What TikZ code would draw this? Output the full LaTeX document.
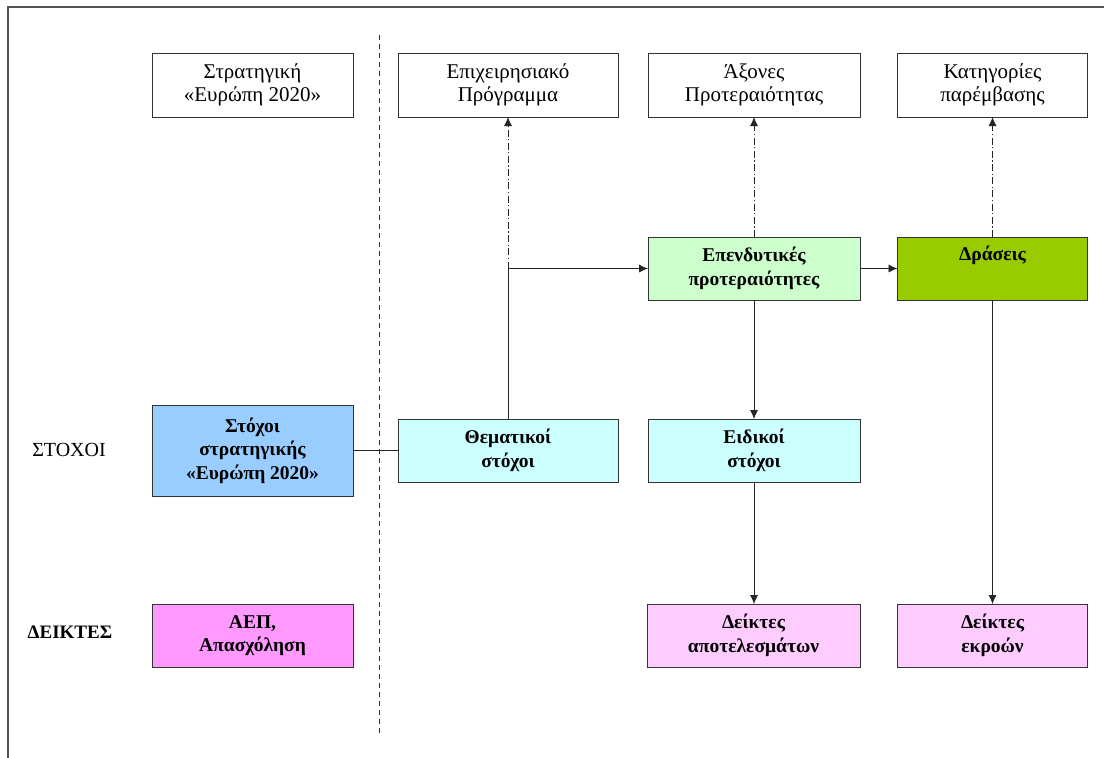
\documentclass[tikz,border=0pt]{standalone}
\usepackage{fontspec}
\setmainfont{Liberation Serif}
\newfontfamily\grserif{Liberation Serif}
\usetikzlibrary{arrows.meta}
\definecolor{cblue}{HTML}{99CCFF}
\definecolor{ccyan}{HTML}{CCFFFF}
\definecolor{cltgreen}{HTML}{CCFFCC}
\definecolor{cgreen}{HTML}{99CC00}
\definecolor{cpink}{HTML}{FF99FF}
\definecolor{cltpink}{HTML}{FFCCFF}
\definecolor{cframe}{HTML}{555555}
\begin{document}
\begin{tikzpicture}[x=1pt,y=-1pt,
  box/.style={draw=black!80, line width=0.9pt, inner sep=0pt, outer sep=0pt, align=center,
    font=\grserif\fontsize{21}{23}\selectfont},
  boldbox/.style={box, font=\grserif\fontsize{19.5}{23.5}\selectfont\bfseries},
  rowlabel/.style={inner sep=0pt, font=\grserif\fontsize{20}{22}\selectfont},
  conn/.style={line width=0.8pt, draw=black!85},
  arr/.style={conn, -{Latex[length=9pt,width=8pt]}},
  dd/.style={arr, dash pattern=on 7pt off 2.5pt on 1.2pt off 2.5pt}
]
\useasboundingbox (0,0) rectangle (1104,758);
\fill[white] (0,0) rectangle (1104,758);
% outer frame (only top and left visible)
\draw[cframe, line width=1.3pt] (8,790) -- (8,7) -- (1130,7);
% vertical dashed separator
\coordinate (sepTop) at (379,35);
\coordinate (sepBot) at (379,735);
\draw[black!80, line width=0.7pt, dash pattern=on 5pt off 4pt] (sepTop) -- (sepBot);

% top header boxes
\node[box, minimum width=201pt, minimum height=64pt] (strat) at (252.5,85) {Στρατηγική\\«Ευρώπη 2020»};
\node[box, minimum width=220pt, minimum height=64pt] (ep) at (508,85) {Επιχειρησιακό\\Πρόγραμμα};
\node[box, minimum width=212pt, minimum height=64pt] (axon) at (754,85) {Άξονες\\Προτεραιότητας};
\node[box, minimum width=190pt, minimum height=64pt] (kat) at (992.5,85) {Κατηγορίες\\παρέμβασης};

% middle row
\node[boldbox, fill=cltgreen, minimum width=212pt, minimum height=63pt] (inv) at (754,268.5) {Επενδυτικές\\προτεραιότητες};
\node[boldbox, fill=cgreen, minimum width=190pt, minimum height=63pt] (dras) at (992.5,268.5) {Δράσεις\\\strut};

% goals row
\node[rowlabel] (lstoxoi) at (69,450) {ΣΤΟΧΟΙ};
\node[boldbox, fill=cblue, minimum width=201pt, minimum height=91pt] (stoxstrat) at (252.5,450.5) {Στόχοι\\στρατηγικής\\«Ευρώπη 2020»};
\node[boldbox, fill=ccyan, minimum width=220pt, minimum height=63pt] (them) at (508,450.5) {Θεματικοί\\στόχοι};
\node[boldbox, fill=ccyan, minimum width=212pt, minimum height=63pt] (eid) at (754,450.5) {Ειδικοί\\στόχοι};

% indicators row
\node[rowlabel, font=\grserif\fontsize{19}{22}\selectfont\bfseries] (ldeik) at (70,632) {ΔΕΙΚΤΕΣ};
\node[boldbox, fill=cpink, minimum width=201pt, minimum height=63pt] (aep) at (252.5,635.5) {ΑΕΠ,\\Απασχόληση};
\node[boldbox, fill=cltpink, minimum width=213pt, minimum height=63pt] (dapot) at (753.5,635.5) {Δείκτες\\αποτελεσμάτων};
\node[boldbox, fill=cltpink, minimum width=190pt, minimum height=63pt] (dekr) at (992.5,635.5) {Δείκτες\\εκροών};

% connectors
\coordinate (junc) at (them.north |- inv.west);
\draw[conn] (stoxstrat.east) -- (them.west);
\draw[conn] (them.north) -- (junc);
\draw[arr] (junc) -- (inv.west);
\draw[dd] (junc) -- (ep.south);
\draw[dd] (inv.north) -- (axon.south);
\draw[arr] (inv.east) -- (dras.west);
\draw[dd] (dras.north) -- (kat.south);
\draw[arr] (inv.south) -- (eid.north);
\draw[arr] (eid.south) -- (dapot.north -| eid.south);
\draw[arr] (dras.south) -- (dekr.north);
\end{tikzpicture}
\end{document}
